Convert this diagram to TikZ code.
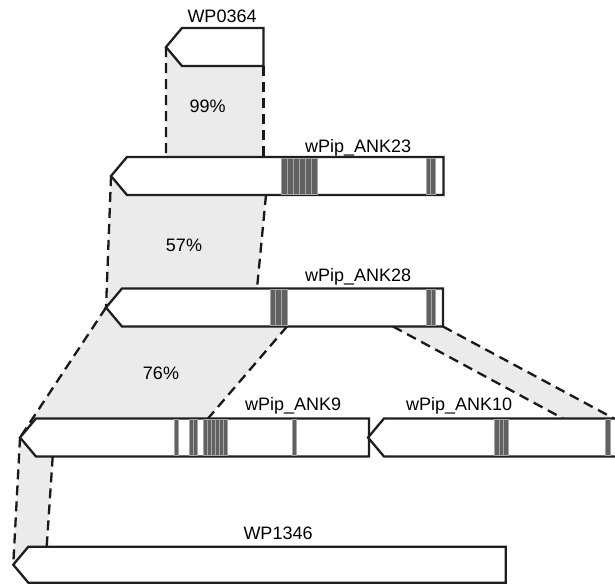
\documentclass[tikz,border=0pt]{standalone}
\usepackage{fontspec}
\setmainfont{Liberation Sans}
\usetikzlibrary{shapes.symbols,backgrounds}
\tikzset{
  gene/.style={
    signal,
    signal to=west,
    signal pointer angle=100,
    draw=black!88,
    line width=2.3pt,
    fill=white,
    inner sep=0pt,
    outer sep=0pt,
    minimum height=38pt
  },
  genelabel/.style={
    anchor=base west,
    inner sep=0pt,
    font=\fontsize{18}{20}\selectfont
  },
  pctlabel/.style={
    inner sep=0pt,
    font=\fontsize{18}{20}\selectfont
  },
  synteny/.style={
    fill=black!8
  },
  syntenyline/.style={
    draw=black!90,
    line width=2.3pt,
    dash pattern=on 10pt off 6pt
  },
  motif/.style={
    fill=black!62,
    draw=black!35,
    line width=0.5pt
  }
}

\begin{document}
\begin{tikzpicture}[x=1pt, y=-1pt]
    \clip (0,0) rectangle (615,584);

    % genes
    \node[gene, minimum width=97.5pt] (wp0364) at (222.75,47) {};
    \node[gene, minimum width=332.5pt] (ank23) at (285.25,176) {};
    \node[gene, minimum width=337pt] (ank28) at (282.5,307.5) {};
    \node[gene, minimum width=349pt] (ank9) at (202.5,437.5) {};
    \node[gene, minimum width=272pt] (ank10) at (512,437.5) {};
    \node[gene, minimum width=492.4pt, minimum height=36pt] (wp1346) at (267,564.7) {};

    \node[genelabel] (lwp0364) at (187.3,22.7) {WP0364};
    \node[genelabel] (lank23) at (305,152.3) {wPip\_ANK23};
    \node[genelabel] (lank28) at (305,281) {wPip\_ANK28};
    \node[genelabel] (lank9) at (245,410) {wPip\_ANK9};
    \node[genelabel] (lank10) at (406,410.5) {wPip\_ANK10};
    \node[genelabel] (lwp1346) at (243.3,539) {WP1346};

    % ankyrin repeats
    \foreach \x in {281,287,...,311} \draw[motif] (\x,158.2) rectangle +(6,35.6);
    \foreach \x in {426,430.5} \draw[motif] (\x,158.2) rectangle +(4.5,35.6);
    \foreach \x in {270,275.7,281.3} \draw[motif] (\x,289.7) rectangle +(5.7,35.6);
    \foreach \x in {426.7,430.9} \draw[motif] (\x,289.7) rectangle +(4.2,35.6);
    \foreach \x in {174.5,189,193.2,203,207,211,215,219,223,292.3} \draw[motif] (\x,419.7) rectangle +(4,35.6);
    \foreach \x in {494.3,498.8,503.3} \draw[motif] (\x,419.7) rectangle +(4.5,35.6);
    \draw[motif] (605,419.7) rectangle +(5,35.6);

    % identity links
    \begin{scope}[on background layer]
      \fill[synteny] (wp0364.west) -- (263.5,0 |- wp0364.south) -- (263.5,0 |- ank23.north) -- (166,0 |- ank23.north) -- cycle;
      \fill[synteny] (ank23.west) -- (266,0 |- ank23.south) -- (257,0 |- ank28.north) -- (ank28.west) -- cycle;
      \fill[synteny] (ank28.west) -- (287,0 |- ank28.south) -- (208,0 |- ank9.north) -- (ank9.west) -- cycle;
      \fill[synteny] (393,0 |- ank28.south) -- (443,0 |- ank28.south) -- (614,0 |- ank10.north) -- (563,0 |- ank10.north) -- cycle;
      \fill[synteny] (ank9.west) -- (52.7,0 |- ank9.south) -- (46.7,0 |- wp1346.north) -- (wp1346.west) -- cycle;

      \draw[syntenyline] (wp0364.west) -- (166,0 |- ank23.north);
      \draw[syntenyline] (263.5,0 |- wp0364.south) -- (263.5,0 |- ank23.north);
      \draw[syntenyline] (ank23.west) -- (ank28.west);
      \draw[syntenyline] (266,0 |- ank23.south) -- (257,0 |- ank28.north);
      \draw[syntenyline] (ank28.west) -- (ank9.west);
      \draw[syntenyline] (287,0 |- ank28.south) -- (208,0 |- ank9.north);
      \draw[syntenyline] (393,0 |- ank28.south) -- (563,0 |- ank10.north);
      \draw[syntenyline] (443,0 |- ank28.south) -- (614,0 |- ank10.north);
      \draw[syntenyline] (ank9.west) -- (wp1346.west);
      \draw[syntenyline] (52.7,0 |- ank9.south) -- (46.7,0 |- wp1346.north);
    \end{scope}

    \node[pctlabel] (p99) at (207.7,106.3) {99\%};
    \node[pctlabel] (p57) at (184,245) {57\%};
    \node[pctlabel] (p76) at (161,373) {76\%};
\end{tikzpicture}
\end{document}
